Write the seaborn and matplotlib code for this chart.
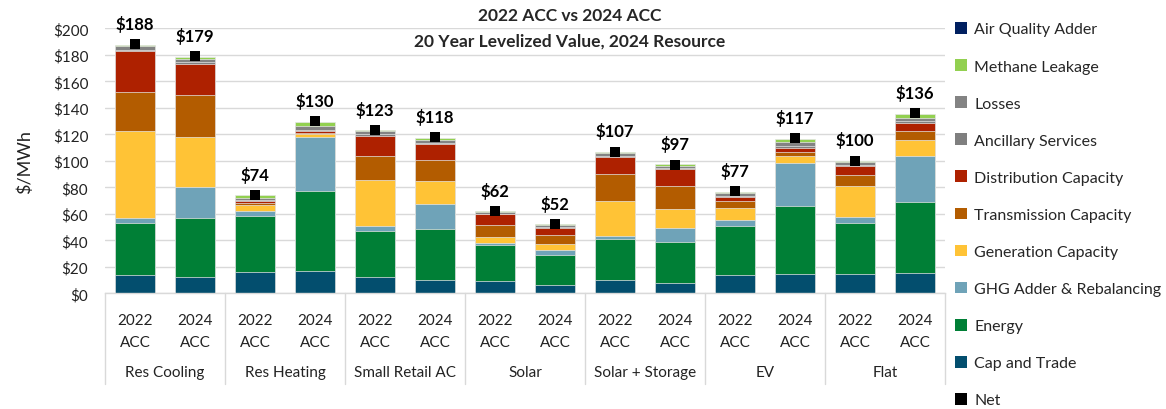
import matplotlib
matplotlib.use("Agg")
import matplotlib.pyplot as plt
import matplotlib.transforms as mtransforms
from matplotlib.patches import Patch
import seaborn as sns
import numpy as np
import pandas as pd

# ---------------- data ----------------
groups = ["Res Cooling", "Res Heating", "Small Retail AC", "Solar",
          "Solar + Storage", "EV", "Flat"]
vintages = ["2022\nACC", "2024\nACC"]

cap_and_trade = [13.6, 12.1, 16.1, 17.1, 12.1, 10.3, 9.6, 6.3, 10.3, 8.1, 13.8, 14.3, 14.3, 15.1]
energy        = [39.7, 44.8, 42.5, 60.4, 35.2, 38.5, 27.1, 22.6, 30.7, 30.7, 37.2, 51.6, 39.0, 54.1]
ghg_adder     = [3.5, 23.6, 3.8, 40.7, 3.3, 18.9, 1.5, 4.0, 2.5, 10.6, 4.0, 32.7, 4.3, 34.2]
generation    = [65.4, 37.7, 4.3, 1.8, 34.9, 17.1, 4.1, 4.0, 26.4, 14.1, 9.1, 5.0, 23.2, 12.3]
transmission  = [29.4, 31.5, 1.7, 1.3, 17.9, 15.8, 9.0, 6.8, 20.1, 17.4, 5.5, 3.3, 8.3, 7.1]
distribution  = [31.4, 23.6, 1.5, 1.0, 15.6, 11.9, 8.3, 5.5, 12.8, 12.6, 3.3, 3.0, 6.8, 5.8]
ancillary     = [1.0, 1.2, 0.8, 1.2, 1.0, 1.0, 0.5, 0.6, 0.8, 0.8, 0.8, 1.2, 1.0, 1.2]
losses        = [2.5, 2.6, 1.5, 2.8, 2.3, 2.2, 1.0, 1.4, 2.0, 2.0, 2.0, 2.8, 2.3, 2.8]
methane       = [0.8, 1.3, 1.8, 3.3, 0.7, 1.5, 1.0, 1.0, 1.0, 1.0, 1.0, 2.5, 1.0, 2.5]
air_quality   = [0.0, 0.0, 0.0, 0.0, 0.0, 0.0, 0.0, 0.0, 0.0, 0.0, 0.0, 0.0, 0.0, 0.0]
net           = [188, 179, 74, 130, 123, 118, 62, 52, 107, 97, 77, 117, 100, 136]

components = ["Cap and Trade", "Energy", "GHG Adder & Rebalancing", "Generation Capacity",
              "Transmission Capacity", "Distribution Capacity", "Ancillary Services",
              "Losses", "Methane Leakage", "Air Quality Adder"]
series = [cap_and_trade, energy, ghg_adder, generation, transmission, distribution,
          ancillary, losses, methane, air_quality]
colors = ["#034E6E", "#007F36", "#6FA3B8", "#FFC336", "#B35C00", "#AE2100",
          "#7F7F7F", "#838383", "#92D050", "#002060"]

# ---------------- figure ----------------
sns.set_theme(style="white")
plt.rcParams["font.family"] = ["Lato", "DejaVu Sans"]

W, H = 1166, 410
fig = plt.figure(figsize=(W / 100, H / 100), dpi=100)
ax_l, ax_r, ax_t, ax_b = 105, 945, 29.3, 294.3
ax = fig.add_axes([ax_l / W, 1 - ax_b / H, (ax_r - ax_l) / W, (ax_b - ax_t) / H])

n = len(net)
pos = np.arange(n)
vals = np.array(series)
cum = np.cumsum(vals, axis=0)

# draw cumulative tops from the top-most component downward
for k in range(len(components) - 1, -1, -1):
    if np.all(vals[k] == 0):
        continue
    df = pd.DataFrame({"x": pos, "y": cum[k]})
    sns.barplot(data=df, x="x", y="y", native_scale=True, color=colors[k],
                width=0.67, errorbar=None, saturation=1, ax=ax,
                edgecolor="#E6E6E6", linewidth=0.5, zorder=2)

df_net = pd.DataFrame({"x": pos, "y": net})
sns.scatterplot(data=df_net, x="x", y="y", marker="s", color="black", s=60,
                edgecolor="black", linewidth=0, zorder=5, ax=ax, clip_on=False)

for i, v in enumerate(net):
    ax.annotate(f"${v}", (i, v), xytext=(0, 15), textcoords="offset points",
                ha="center", va="center", fontsize=12, fontweight="bold",
                color="black", annotation_clip=False)

ax.set_xlim(-0.5, n - 0.5)
ax.set_ylim(0, 200)
ax.set_yticks(np.arange(0, 201, 20))
ax.set_yticklabels([f"${t}" for t in range(0, 201, 20)], fontsize=11, color="#222222")
ax.yaxis.grid(True, color="#D9D9D9", linewidth=1, zorder=0)
ax.set_axisbelow(True)
for s in ["left", "right", "top"]:
    ax.spines[s].set_visible(False)
ax.spines["bottom"].set_color("#D9D9D9")
ax.spines["bottom"].set_linewidth(1)
ax.tick_params(axis="both", length=0)
ax.tick_params(axis="y", pad=12)

ax.set_xticks(pos)
ax.set_xticklabels([vintages[i % 2] for i in range(n)], fontsize=11,
                   linespacing=1.75, color="#222222")
ax.tick_params(axis="x", pad=14)
ax.set_xlabel("")
ax.set_ylabel("$/MWh", fontsize=13, labelpad=14, color="#222222")

trans = mtransforms.blended_transform_factory(ax.transData, ax.transAxes)
for g, name in enumerate(groups):
    ax.text(2 * g + 0.5, -0.297, name, transform=trans, ha="center", va="center",
            fontsize=11, color="#222222")
for g in range(len(groups) + 1):
    ax.plot([2 * g - 0.5, 2 * g - 0.5], [0, -0.342], transform=trans, color="#D9D9D9",
            linewidth=1, clip_on=False, zorder=1)
ax.set_xlim(-0.5, n - 0.5)

fig.text(570 / W, 1 - 16 / H, "2022 ACC vs 2024 ACC", ha="center", va="center",
         fontsize=12.5, fontweight="bold")
fig.text(570 / W, 1 - 42 / H, "20 Year Levelized Value, 2024 Resource", ha="center",
         va="center", fontsize=12.5, fontweight="bold")

handles = [Patch(facecolor=colors[k], edgecolor="none") for k in range(len(components) - 1, -1, -1)]
labels = [components[k] for k in range(len(components) - 1, -1, -1)]
handles.append(Patch(facecolor="black", edgecolor="none"))
labels.append("Net")
fig.legend(handles, labels, loc="upper left", bbox_to_anchor=(955 / W, 1 - 23 / H),
           frameon=False, fontsize=11.5, handlelength=0.75, handleheight=0.75,
           handletextpad=0.45, labelspacing=1.42, borderpad=0, borderaxespad=0)

fig.savefig("out.png", dpi=100)
